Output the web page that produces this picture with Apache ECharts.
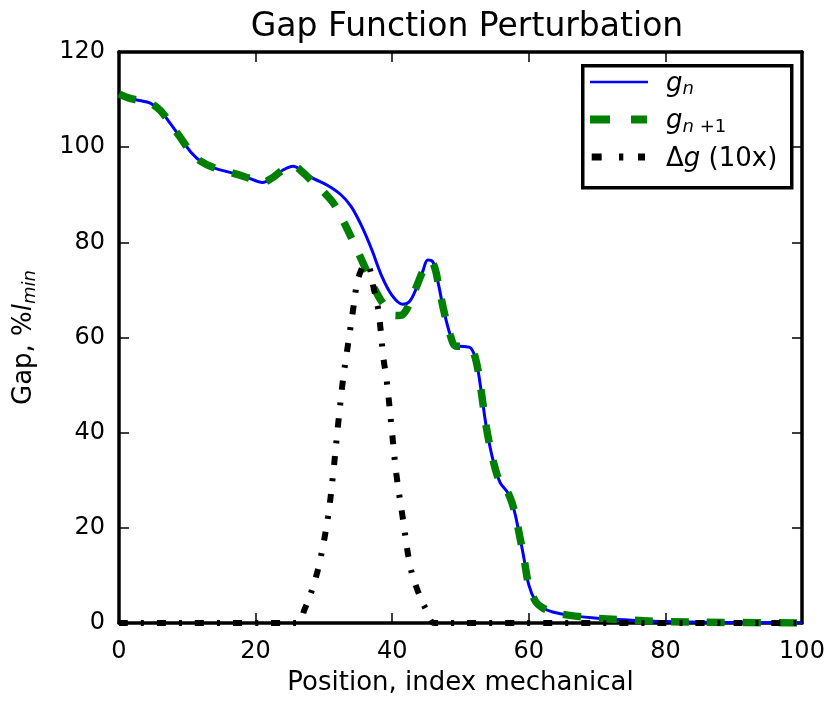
<!DOCTYPE html>
<html>
<head>
<meta charset="utf-8">
<script src="https://cdn.jsdelivr.net/npm/echarts@6/dist/echarts.min.js"></script>
<style>
  html, body { margin: 0; padding: 0; background: #fff; }
  #chart { width: 830px; height: 702px; }
</style>
</head>
<body>
<div id="chart"></div>
<script>
// Axis ticks
const xTicks = [0, 20, 40, 60, 80, 100];
const yTicks = [0, 20, 40, 60, 80, 100, 120];

// Gap g_n along the mechanical index
const gapNPos = [0, 1.5, 3, 4.5, 6, 7.5, 9, 10.5, 12, 14, 16.5, 19, 21, 22.5, 24, 25.5, 27, 28.5, 30.5, 32.5, 34, 35.5, 37, 38.5, 40, 41.5, 42.5, 43.5, 44.5, 45.2, 46, 46.8, 47.5, 48.5, 49.3, 50.5, 51.5, 52.3, 53, 53.8, 54.8, 55.8, 57, 57.8, 58.5, 59.3, 60, 61, 62, 63.5, 66, 70, 75, 80, 90, 100];
const gapN    = [111.2, 110.3, 109.8, 109.3, 107.8, 105, 102, 99, 97, 95.6, 94.6, 93.5, 92.6, 93.6, 95.2, 96, 94.8, 93.4, 92, 90, 87.5, 83.5, 78.5, 72.8, 68.8, 67, 67.5, 70.2, 74, 76.3, 75.8, 71, 66, 60.5, 58.2, 58.1, 57.8, 55, 49, 41, 34, 29.5, 27.2, 24, 19.5, 13.5, 8, 4.5, 3.2, 2.3, 1.6, 1.0, 0.6, 0.3, 0.1, 0.0];

// Perturbed gap g_{n+1}
const gapN1Pos = [0, 1.5, 3, 4.5, 6, 7.5, 9, 10.5, 12, 14, 16.5, 19, 21, 22.5, 24, 25.5, 27, 28.5, 30, 31.5, 33, 34.5, 36, 37.5, 39, 40.5, 41.5, 42.5, 43.5, 44.5, 45.2, 46, 46.8, 47.5, 48.5, 49.3, 50.5, 51.5, 52.3, 53, 53.8, 54.8, 55.8, 57, 57.8, 58.5, 59.3, 60, 61, 62, 63.5, 66, 70, 75, 80, 90, 100];
const gapN1    = [111.2, 110.3, 109.8, 109.3, 107.8, 105, 102, 99, 97, 95.6, 94.6, 93.5, 92.6, 93.6, 95.2, 96, 94.6, 92.4, 90.5, 88, 84, 79.5, 74.8, 70, 66.5, 64.6, 64.8, 67, 70.5, 74, 75.8, 75.5, 71, 66, 60.5, 58.2, 58.1, 57.8, 55, 49, 41, 34, 29.5, 27.2, 24, 19.5, 13.5, 8, 4.5, 3.2, 2.3, 1.6, 1.0, 0.6, 0.3, 0.1, 0.0];

// Difference Δg, scaled by 10
const deltaPos = [0, 26, 27.2, 28.4, 29.4, 30.6, 31.4, 32.1, 32.8, 33.3, 33.8, 34.3, 34.8, 35.4, 36.1, 36.7, 37.2, 38, 38.7, 39.2, 39.9, 40.6, 41.6, 42.6, 43.6, 45, 46.2, 100];
const delta    = [0, 0, 3, 7.6, 12.9, 22.3, 32, 42, 51.2, 56.3, 61.2, 66.1, 71, 74, 75.5, 74.5, 71, 65.4, 55.8, 50.9, 41.2, 31.4, 21.6, 12.2, 7.3, 2.7, 0, 0];

const zip = (xs, ys) => xs.map((x, i) => [x, ys[i]]);

const FONT = 'DejaVu Sans';
const math = {
  r:  { fontFamily: FONT, fontSize: 26, color: '#000' },
  i:  { fontFamily: FONT, fontSize: 26, fontStyle: 'italic', color: '#000' },
  s:  { fontFamily: FONT, fontSize: 18, fontStyle: 'italic', color: '#000', verticalAlign: 'bottom', padding: [11, 0, 0, 0] },
  sr: { fontFamily: FONT, fontSize: 18, color: '#000', verticalAlign: 'bottom', padding: [11, 0, 0, 0] }
};

const frameAxis = {
  min: 0,
  axisLine: { show: true, onZero: false, lineStyle: { color: '#000', width: 3.5 } },
  axisTick: { show: true, inside: true, length: 10, lineStyle: { color: '#000', width: 1.5 } },
  splitLine: { show: false }
};

// Legend keys: a tiny sliver at x=57.9 fixes every key to the same width
const SLIVER = ' M57.9,0 L58,0 L58,0.1 L57.9,0.1 Z';
const keySolid = 'path://M0,0 L58,0 L58,2.6 L0,2.6 Z';
const keyDash = 'path://M0,0 L20,0 L20,8 L0,8 Z M41,0 L57,0 L57,8 L41,8 Z' + SLIVER;
const keyDashDot = 'path://M1.7,0 L11.7,0 L11.7,7 L1.7,7 Z M29,0 L33.3,0 L33.3,7 L29,7 Z M48,0 L55,0 L55,7 L48,7 Z' + SLIVER + ' M0,0 L0.1,0 L0.1,0.1 L0,0.1 Z';

const chart = echarts.init(document.getElementById('chart'), null, { renderer: 'canvas' });
chart.setOption({
  animation: false,
  backgroundColor: '#fff',
  title: {
    text: 'Gap Function Perturbation',
    left: 462, top: 6, textAlign: 'center',
    textStyle: { fontFamily: FONT, fontSize: 33, fontWeight: 'normal', color: '#000' }
  },
  grid: { left: 119, right: 28, top: 52, bottom: 79, containLabel: false },
  xAxis: [
    Object.assign({}, frameAxis, {
      type: 'value', max: 100, interval: 20, position: 'bottom',
      axisLabel: { fontFamily: FONT, fontSize: 24, color: '#000', margin: 17, formatter: v => xTicks.includes(v) ? String(v) : '' },
      name: 'Position, index mechanical', nameLocation: 'middle', nameGap: 47,
      nameTextStyle: { fontFamily: FONT, fontSize: 26, color: '#000' }
    }),
    Object.assign({}, frameAxis, { type: 'value', max: 100, interval: 20, position: 'top', axisLabel: { show: false } })
  ],
  yAxis: [
    Object.assign({}, frameAxis, {
      type: 'value', max: 120, interval: 20, position: 'left',
      axisLabel: { fontFamily: FONT, fontSize: 24, color: '#000', margin: 14, formatter: v => yTicks.includes(v) ? String(v) : '' },
      name: '{r|Gap, %}{i|l}{s|min}', nameLocation: 'middle', nameGap: 80, nameRotate: 90,
      nameTextStyle: { rich: math }
    }),
    Object.assign({}, frameAxis, { type: 'value', max: 120, interval: 20, position: 'right', axisLabel: { show: false } })
  ],
  legend: {
    orient: 'vertical', left: 590, top: 71,
    itemWidth: 58, itemHeight: 14, itemGap: 10,
    padding: 0,
    textStyle: { rich: math, padding: [4, 0, 0, 13] },
    data: [
      { name: 'gn', icon: keySolid },
      { name: 'gn1', icon: keyDash },
      { name: 'dg', icon: keyDashDot }
    ],
    formatter: function (name) {
      if (name === 'gn') return '{i|g}{s|n}';
      if (name === 'gn1') return '{i|g}{s|n}{sr| +1}';
      return '{r|Δ}{i|g}{r| (10x)}';
    }
  },
  graphic: [{
    type: 'rect', left: 581, top: 64, z: -1,
    shape: { width: 209, height: 122 },
    style: { fill: '#fff', stroke: '#000', lineWidth: 3.5 }
  }],
  series: [
    {
      name: 'gn', type: 'line', smooth: 0.35, symbol: 'none',
      data: zip(gapNPos, gapN),
      itemStyle: { color: '#0000ff' },
      lineStyle: { color: '#0000ff', width: 3 }
    },
    {
      name: 'gn1', type: 'line', smooth: 0.35, symbol: 'none',
      data: zip(gapN1Pos, gapN1),
      itemStyle: { color: '#008000' },
      lineStyle: { color: '#008000', width: 7.5, type: [18, 18], cap: 'butt' }
    },
    {
      name: 'dg', type: 'line', smooth: 0.35, symbol: 'none',
      data: zip(deltaPos, delta),
      itemStyle: { color: '#000' },
      lineStyle: { color: '#000', width: 6, type: [9, 13, 3, 13], cap: 'butt' }
    }
  ]
});
</script>
</body>
</html>
